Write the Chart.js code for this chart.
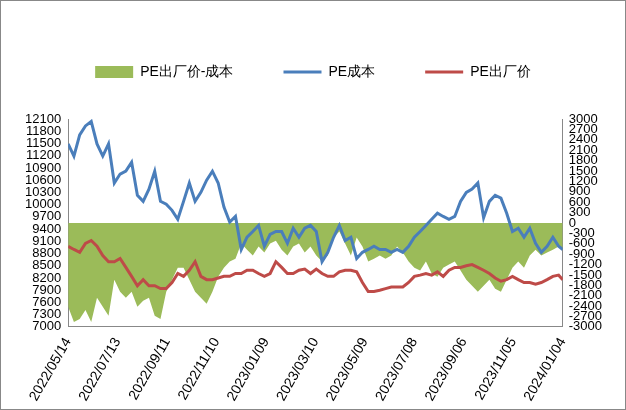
<!DOCTYPE html>
<html>
<head>
<meta charset="utf-8">
<script src="https://cdn.jsdelivr.net/npm/chart.js@4"></script>
<style>
  body { margin: 0; background: #fff; }
  #wrap { width: 624px; height: 408px; border: 1px solid #888; }
</style>
</head>
<body>
<div id="wrap"><canvas id="c" width="624" height="408"></canvas></div>
<script>
// day offsets from 2022/05/14 (weekly samples)
const days = [];
for (let k = 0; k <= 85; k++) days.push(k * 7);
days.push(600);

const tickDays = [0, 60, 120, 180, 240, 300, 360, 420, 480, 540, 600];
const tickLabels = ['2022/05/14', '2022/07/13', '2022/09/11', '2022/11/10', '2023/01/09', '2023/03/10',
  '2023/05/09', '2023/07/08', '2023/09/06', '2023/11/05', '2024/01/04'];

const cost = [11490, 11190, 11710, 11930, 12040, 11490, 11190, 11490, 10530, 10750, 10820, 11040, 10230, 10080,
  10380, 10820, 10080, 10010, 9860, 9640, 10080, 10530, 10080, 10300, 10600, 10820, 10530, 9940, 9570, 9710,
  8900, 9200, 9340, 9490, 8980, 9270, 9340, 9340, 9050, 9420, 9200, 9420, 9490, 9340, 8600, 8830, 9200, 9490,
  9120, 9200, 8680, 8830, 8900, 8980, 8900, 8900, 8830, 8900, 8830, 8980, 9200, 9340, 9490, 9640, 9790, 9710,
  9640, 9710, 10080, 10300, 10380, 10530, 9680, 10080, 10230, 10160, 9790, 9340, 9420, 9200, 9420, 9050, 8830,
  8980, 9200, 8980, 8900];

const price = [8975, 8900, 8830, 9050, 9120, 8980, 8750, 8600, 8600, 8680, 8460, 8240, 8010, 8160, 8010, 8010,
  7940, 7940, 8090, 8310, 8240, 8390, 8600, 8240, 8160, 8160, 8200, 8240, 8240, 8310, 8310, 8390, 8390, 8310,
  8240, 8310, 8600, 8460, 8310, 8310, 8390, 8420, 8310, 8420, 8310, 8240, 8240, 8350, 8390, 8390, 8350, 8090,
  7870, 7870, 7900, 7940, 7980, 7980, 7980, 8090, 8240, 8270, 8310, 8270, 8350, 8240, 8390, 8460, 8460, 8500,
  8530, 8460, 8390, 8310, 8200, 8120, 8160, 8240, 8160, 8090, 8090, 8050, 8090, 8160, 8240, 8270, 8160];

const spread = [-2420, -2860, -2770, -2510, -2860, -2160, -2420, -2680, -1640, -1985, -2160, -1985, -2420, -2245,
  -2160, -2680, -2770, -1985, -1640, -1290, -1290, -1640, -1985, -2160, -2330, -1985, -1550, -1290, -1115, -1030,
  -590, -770, -940, -680, -850, -590, -510, -770, -940, -680, -590, -850, -680, -940, -1115, -940, -420, -245,
  -590, -940, -420, -680, -1115, -1030, -940, -1030, -940, -680, -850, -1115, -1290, -1375, -1115, -1460, -1550,
  -1290, -1200, -1115, -1375, -1640, -1810, -1985, -1810, -1640, -1900, -1985, -1640, -1290, -1115, -1290, -940,
  -770, -940, -850, -770, -680, -770];

const pts = arr => arr.map((v, i) => ({ x: days[i], y: v }));
const font = { family: 'Liberation Sans, Arial', size: 13 };
const tickStyle = { color: '#000', font: font };

// push the plot down a bit below the legend
const legendGap = {
  id: 'legendGap',
  beforeInit(chart) {
    const fit = chart.legend.fit;
    chart.legend.fit = function () { fit.call(this); this.height += 30; };
  }
};

new Chart(document.getElementById('c'), {
  type: 'line',
  data: {
    datasets: [
      { label: 'PE出厂价-成本', data: pts(spread), yAxisID: 'y2', fill: 'origin',
        backgroundColor: '#9BBB59', borderWidth: 0, pointRadius: 0, pointStyle: 'rect', order: 3 },
      { label: 'PE成本', data: pts(cost), yAxisID: 'y', borderColor: '#4A7EBB', backgroundColor: '#4A7EBB',
        borderWidth: 3, pointRadius: 0, pointStyle: 'line', order: 2 },
      { label: 'PE出厂价', data: pts(price), yAxisID: 'y', borderColor: '#BE4B48', backgroundColor: '#BE4B48',
        borderWidth: 3, pointRadius: 0, pointStyle: 'line', order: 1 }
    ]
  },
  plugins: [legendGap],
  options: {
    responsive: false,
    animation: false,
    layout: { padding: { left: 22, right: 22, top: 14, bottom: 2 } },
    plugins: {
      legend: {
        labels: { usePointStyle: true, pointStyleWidth: 38, boxHeight: 12, color: '#000',
          font: { family: 'Liberation Sans, Arial', size: 14 }, padding: 50,
          sort: (a, b) => a.datasetIndex - b.datasetIndex }
      },
      tooltip: { enabled: false }
    },
    scales: {
      x: {
        type: 'linear', min: 0, max: 600,
        afterBuildTicks: axis => { axis.ticks = tickDays.map(v => ({ value: v })); },
        ticks: { ...tickStyle, font: { ...font, size: 14 }, maxRotation: 60, minRotation: 60, autoSkip: false,
          callback: v => tickLabels[tickDays.indexOf(v)] },
        grid: { display: false, drawTicks: true, tickLength: 5, color: '#888' },
        border: { color: '#888' }
      },
      y: {
        position: 'left', min: 7000, max: 12100,
        afterBuildTicks: axis => { const t = []; for (let v = 7000; v <= 12100; v += 300) t.push({ value: v }); axis.ticks = t; },
        ticks: { ...tickStyle, autoSkip: false, padding: 2, callback: v => String(v) },
        grid: { display: false, drawTicks: true, tickLength: 5 },
        border: { color: '#888' }
      },
      y2: {
        position: 'right', min: -3000, max: 3000,
        afterBuildTicks: axis => { const t = []; for (let v = -3000; v <= 3000; v += 300) t.push({ value: v }); axis.ticks = t; },
        ticks: { ...tickStyle, autoSkip: false, padding: 1, callback: v => String(v) },
        grid: { display: false, drawTicks: true, tickLength: 5 },
        border: { color: '#888' }
      }
    }
  }
});
</script>
</body>
</html>
